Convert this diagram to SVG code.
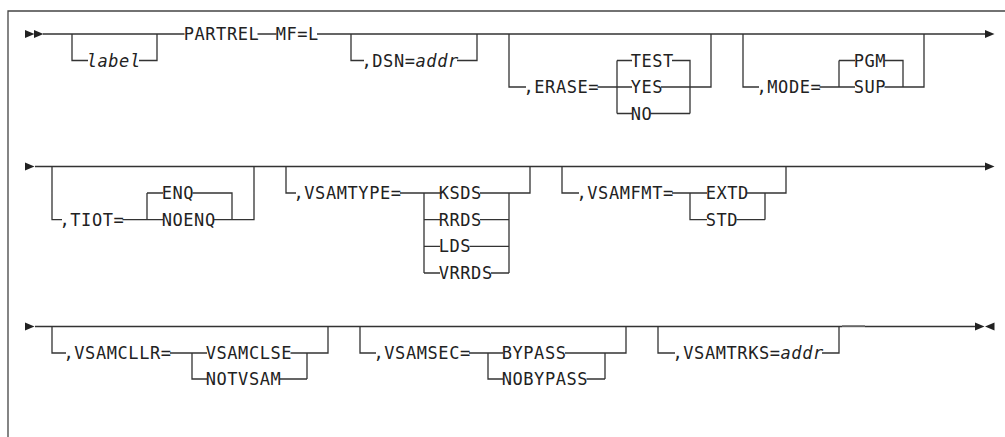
<svg xmlns="http://www.w3.org/2000/svg" width="1005" height="437" viewBox="0 0 1005 437">
<style>
.ln{fill:none;stroke:#333;stroke-width:1.3}
.fr{fill:none;stroke:#444;stroke-width:1.3}
.t{font-family:"DejaVu Sans Mono","Liberation Mono",monospace;font-size:17px;letter-spacing:0.57px;fill:#222}
.i{font-style:italic}
.ah{fill:#222}
</style>
<defs>
<path id="ar" d="M0,-4 L9.5,0 L0,4 Z"/>
</defs>
<rect width="1005" height="437" fill="#fff"/>
<path class="fr" d="M8,437 V11 H1005"/>

<g id="connectors">
<!-- row 1 -->
<path class="ln" d="M43,34 H184.5 M257.5,34 H276.5 M317,34 H985"/>
<path class="ln" d="M72,34 V60.5 H88 M139,60.5 H157 V34"/>
<path class="ln" d="M351,34 V60.5 H364 M457,60.5 H477 V34"/>
<path class="ln" d="M509,34 V87 H526 M597.5,87 H632 M617,60.5 V113.5 M617,60.5 H632 M617,113.5 H632 M672,60.5 H690 V113.5 M650.5,113.5 H690 M661,87 H711 V34"/>
<path class="ln" d="M743,34 V87 H759 M819.5,87 H855 M839,60.5 V87 M839,60.5 H855 M884.5,60.5 H903 V87 M884.5,87 H924 V34"/>
<!-- row 2 -->
<path class="ln" d="M35,166.5 H985"/>
<path class="ln" d="M52,166.5 V219.7 H62 M122.5,219.7 H163 M147,193 V219.7 M147,193 H163 M192.5,193 H232 V219.7 M214,219.7 H254 V166.5"/>
<path class="ln" d="M286,166.5 V193 H296 M400,193 H440 M424,193 V273 M424,219.7 H440 M424,246.3 H440 M424,273 H440 M480,193 H530 V166.5 M480,219.7 H509 M469.5,246.3 H509 M491,273 H509 M509,193 V273"/>
<path class="ln" d="M562,166.5 V193 H579 M672,193 H707 M690,193 V219.7 H707 M747,193 H786 V166.5 M736.5,219.7 H765 M765,193 V219.7"/>
<!-- row 3 -->
<path class="ln" d="M35,326.5 H842 M865,326.5 H975"/>
<path d="M842,326.2 H865" fill="none" stroke="#666" stroke-width="2"/>
<path class="ln" d="M52,326.5 V353 H66 M170,353 H207 M192,353 V379 H207 M290.5,353 H328 V326.5 M280,379 H307 M307,353 V379"/>
<path class="ln" d="M360,326.5 V353 H376 M469,353 H503 M488,353 V379 H503 M565,353 H626 V326.5 M586.5,379 H605 M605,353 V379"/>
<path class="ln" d="M658,326.5 V353 H675 M822,353 H839 V326.5"/>
<!-- arrowheads -->
<use href="#ar" class="ah" x="25" y="34"/>
<use href="#ar" class="ah" x="34" y="34"/>
<use href="#ar" class="ah" x="985" y="34"/>
<use href="#ar" class="ah" x="25" y="166.5"/>
<use href="#ar" class="ah" x="985" y="166.5"/>
<use href="#ar" class="ah" x="25" y="326.5"/>
<use href="#ar" class="ah" x="975" y="326.5"/>
<use href="#ar" class="ah" transform="translate(994.5,326.5) scale(-1,1)"/>
</g>

<g id="node-label"><text class="t i" x="86.7" y="66.5">label</text></g>
<g id="node-partrel"><text class="t" x="183.7" y="40">PARTREL</text></g>
<g id="node-mf"><text class="t" x="275.7" y="40">MF=L</text></g>
<g id="node-dsn"><text class="t" x="361.5" y="66.5">,DSN=<tspan class="i">addr</tspan></text></g>
<g id="node-erase">
<text class="t" x="523.5" y="93">,ERASE=</text>
<text class="t" x="630.7" y="66.5">TEST</text>
<text class="t" x="630.7" y="93">YES</text>
<text class="t" x="630.7" y="119.5">NO</text>
</g>
<g id="node-mode">
<text class="t" x="756.5" y="93">,MODE=</text>
<text class="t" x="853.7" y="66.5">PGM</text>
<text class="t" x="853.7" y="93">SUP</text>
</g>
<g id="node-tiot">
<text class="t" x="59.5" y="225.7">,TIOT=</text>
<text class="t" x="161.7" y="199">ENQ</text>
<text class="t" x="161.7" y="225.7">NOENQ</text>
</g>
<g id="node-vsamtype">
<text class="t" x="293.5" y="199">,VSAMTYPE=</text>
<text class="t" x="438.7" y="199">KSDS</text>
<text class="t" x="438.7" y="225.7">RRDS</text>
<text class="t" x="438.7" y="252.3">LDS</text>
<text class="t" x="438.7" y="279">VRRDS</text>
</g>
<g id="node-vsamfmt">
<text class="t" x="576.5" y="199">,VSAMFMT=</text>
<text class="t" x="705.7" y="199">EXTD</text>
<text class="t" x="705.7" y="225.7">STD</text>
</g>
<g id="node-vsamcllr">
<text class="t" x="63.5" y="359">,VSAMCLLR=</text>
<text class="t" x="205.7" y="359">VSAMCLSE</text>
<text class="t" x="205.7" y="385">NOTVSAM</text>
</g>
<g id="node-vsamsec">
<text class="t" x="373.5" y="359">,VSAMSEC=</text>
<text class="t" x="501.7" y="359">BYPASS</text>
<text class="t" x="501.7" y="385">NOBYPASS</text>
</g>
<g id="node-vsamtrks">
<text class="t" x="672.5" y="359">,VSAMTRKS=<tspan class="i">addr</tspan></text>
</g>
</svg>
